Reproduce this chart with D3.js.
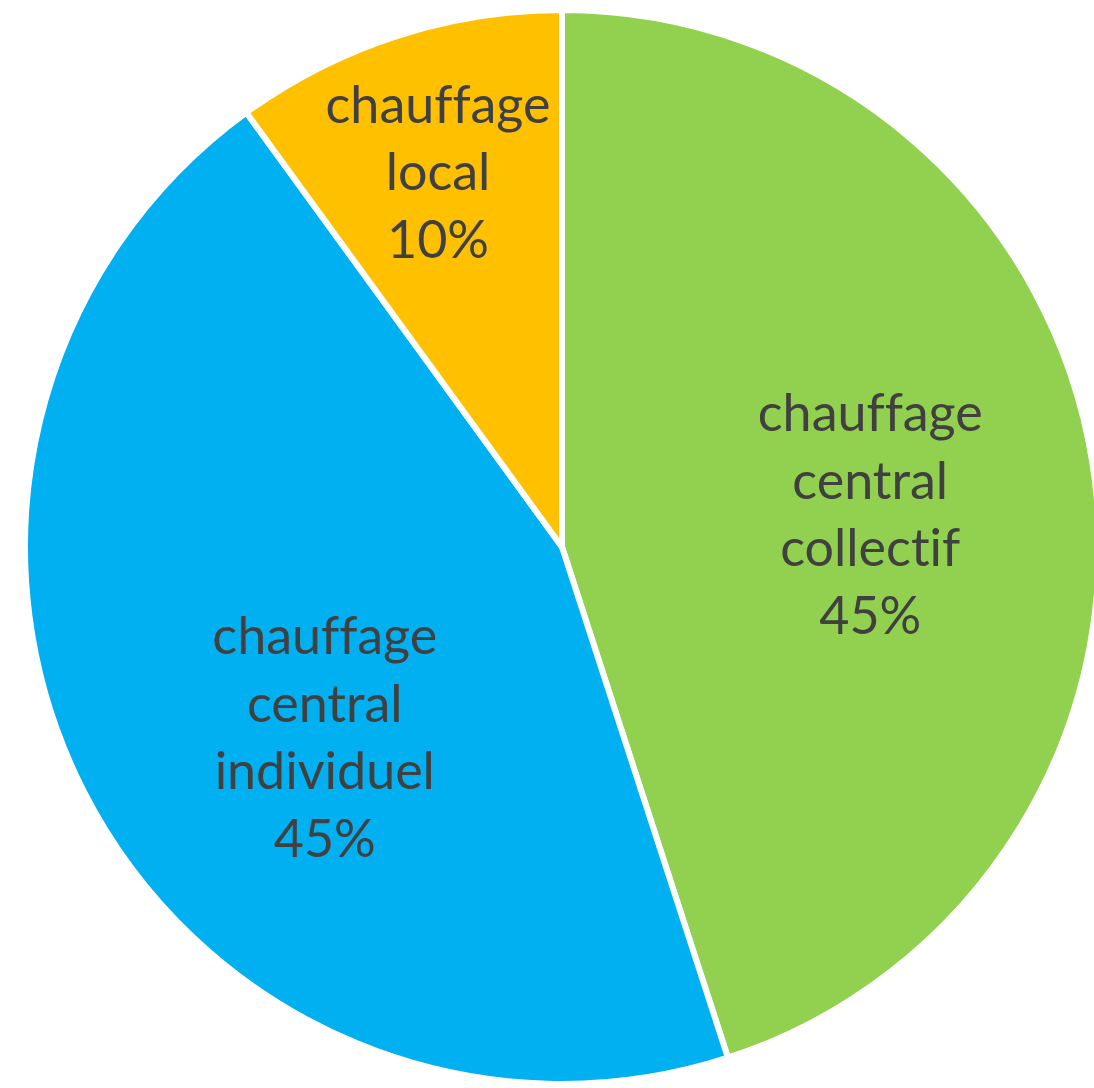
<!DOCTYPE html>
<html>
<head>
<meta charset="utf-8">
<script src="https://cdn.jsdelivr.net/npm/d3@7"></script>
<style>
  html, body { margin: 0; padding: 0; background: #ffffff; }
  svg { display: block; }
  text { font-variant-ligatures: none; font-feature-settings: "liga" 0, "clig" 0; }
</style>
</head>
<body>
<svg id="chart" width="1094" height="1088"></svg>
<script>
// ---- data ----
const categories = ["chauffage central collectif", "chauffage central individuel", "chauffage local"];
const labelLines = [["chauffage", "central", "collectif"], ["chauffage", "central", "individuel"], ["chauffage", "local"]];
const values = [45, 45, 10];
const percentLabels = ["45%", "45%", "10%"];
const colors = ["#92D050", "#00B0F0", "#FFC000"];

// ---- layout (style, not data) ----
const W = 1094, H = 1088;
const cx = 562, cy = 547, R = 537;
const lineH = 67.5;
const fontSize = 52;
// label placement: polar position relative to center (angle in degrees from 12 o'clock, radius in px)
const labelPolar = [
  { a: 83.9, r: 310 },
  { a: 231.3, r: 304 },
  { a: 341.7, r: 395 }
];

const svg = d3.select("#chart");
svg.append("rect").attr("width", W).attr("height", H).attr("fill", "#ffffff");

const g = svg.append("g").attr("transform", `translate(${cx},${cy})`);

const pie = d3.pie().sort(null).value(d => d.value);
const arc = d3.arc().innerRadius(0).outerRadius(R);

const dataset = categories.map((c, i) => ({ name: c, value: values[i], i }));
const arcs = pie(dataset);

g.selectAll("path.slice")
  .data(arcs)
  .join("path")
  .attr("class", "slice")
  .attr("d", arc)
  .attr("fill", d => colors[d.data.i])
  .attr("stroke", "#ffffff")
  .attr("stroke-width", 6)
  .attr("stroke-linejoin", "round");

g.selectAll("text.lbl")
  .data(arcs)
  .join("text")
  .attr("class", "lbl")
  .attr("font-family", "Lato, 'Open Sans', sans-serif")
  .attr("font-size", fontSize)
  .attr("fill", "#404040")
  .attr("text-anchor", "middle")
  .each(function(d) {
    const i = d.data.i;
    const p = labelPolar[i];
    const ang = p.a * Math.PI / 180;
    const x = Math.sin(ang) * p.r;
    const y = -Math.cos(ang) * p.r;
    const lines = labelLines[i].concat([percentLabels[i]]);
    const n = lines.length;
    const t = d3.select(this);
    lines.forEach((ln, k) => {
      t.append("tspan")
        .attr("x", x)
        .attr("y", y + (k - (n - 1) / 2) * lineH)
        .attr("dy", "0.35em")
        .text(ln);
    });
  });
</script>
</body>
</html>
